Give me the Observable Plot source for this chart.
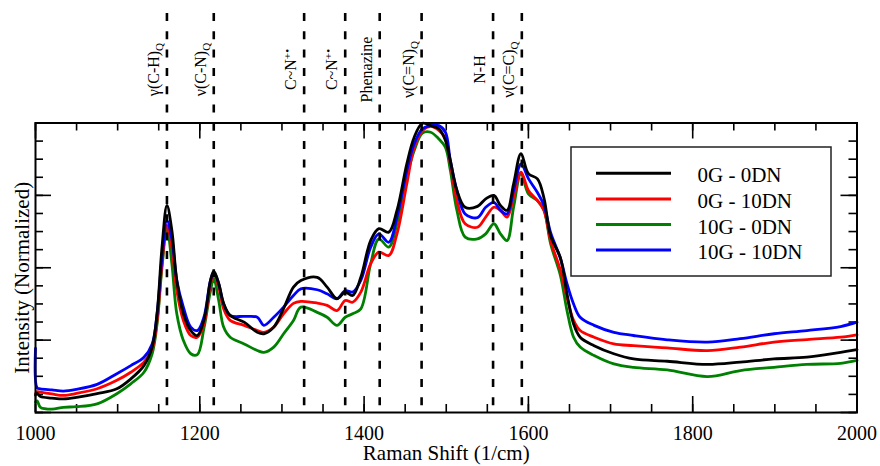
<!DOCTYPE html>
<html><head><meta charset="utf-8">
<script src="https://cdn.jsdelivr.net/npm/d3@7"></script>
<script src="https://cdn.jsdelivr.net/npm/@observablehq/plot@0.6"></script>
<style>
body{margin:0;background:#fff;}
#wrap{position:relative;width:880px;height:466px;}
#legend{position:absolute;left:570px;top:146px;}
</style></head><body><div id="wrap"></div>
<script>
// Raman shift (1/cm)
const ramanShift = [1000,1002,1006,1020,1034,1050,1075,1099,1116,1132,1142,1148,1154,1160,1166,1172,1180,1189,1197,1205,1213,1217,1223,1229,1237,1254,1270,1278,1290,1302,1314,1323,1343,1355,1367,1377,1386,1396,1408,1418,1430,1440,1452,1461,1471,1481,1491,1499,1505,1513,1523,1538,1548,1558,1566,1574,1582,1591,1600,1611,1619,1627,1639,1647,1655,1663,1680,1704,1728,1769,1818,1858,1899,1939,1980,2000];
// normalized intensities
const g0dn0 = [0.060,0.066,0.055,0.050,0.047,0.052,0.065,0.082,0.116,0.162,0.226,0.342,0.571,0.715,0.629,0.456,0.342,0.283,0.266,0.318,0.456,0.488,0.446,0.377,0.335,0.312,0.277,0.272,0.295,0.359,0.433,0.456,0.467,0.433,0.393,0.416,0.404,0.467,0.594,0.635,0.623,0.698,0.859,0.951,0.999,0.991,0.980,0.940,0.870,0.767,0.709,0.712,0.738,0.750,0.715,0.698,0.790,0.894,0.825,0.807,0.740,0.610,0.534,0.410,0.306,0.260,0.231,0.203,0.185,0.177,0.166,0.174,0.185,0.191,0.208,0.217];
const g0dn10 = [0.065,0.072,0.070,0.064,0.059,0.066,0.082,0.111,0.139,0.174,0.220,0.318,0.514,0.646,0.571,0.421,0.318,0.266,0.260,0.306,0.445,0.479,0.433,0.358,0.318,0.301,0.283,0.277,0.295,0.341,0.377,0.384,0.378,0.370,0.352,0.387,0.381,0.416,0.514,0.554,0.542,0.617,0.790,0.916,0.974,0.988,0.974,0.945,0.859,0.732,0.652,0.640,0.675,0.709,0.698,0.675,0.744,0.830,0.767,0.732,0.698,0.594,0.491,0.398,0.318,0.283,0.260,0.237,0.231,0.223,0.214,0.226,0.243,0.252,0.260,0.268];
const g10dn0 = [0.036,0.040,0.018,0.012,0.018,0.020,0.030,0.065,0.099,0.139,0.203,0.306,0.502,0.640,0.514,0.341,0.249,0.203,0.200,0.290,0.420,0.462,0.387,0.295,0.260,0.237,0.214,0.208,0.226,0.272,0.318,0.364,0.346,0.329,0.301,0.329,0.341,0.358,0.514,0.600,0.571,0.652,0.813,0.905,0.965,0.968,0.945,0.916,0.836,0.698,0.606,0.600,0.617,0.652,0.617,0.594,0.709,0.825,0.755,0.732,0.698,0.583,0.473,0.352,0.260,0.226,0.197,0.168,0.156,0.147,0.124,0.145,0.156,0.166,0.170,0.180];
const g10dn10 = [0.221,0.085,0.082,0.078,0.074,0.080,0.097,0.134,0.162,0.191,0.237,0.341,0.536,0.663,0.600,0.456,0.364,0.295,0.283,0.329,0.456,0.485,0.445,0.375,0.335,0.332,0.329,0.301,0.329,0.364,0.404,0.427,0.424,0.410,0.393,0.421,0.416,0.456,0.571,0.617,0.588,0.675,0.836,0.928,0.980,0.991,0.991,0.968,0.870,0.767,0.686,0.673,0.709,0.726,0.698,0.686,0.767,0.859,0.808,0.760,0.715,0.622,0.532,0.445,0.375,0.329,0.301,0.277,0.266,0.251,0.243,0.255,0.272,0.283,0.297,0.312];

const seriesNames = ["0G - 0DN","0G - 10DN","10G - 0DN","10G - 10DN"];
const seriesColors = ["#000000","#ff0000","#008000","#0000ff"];
const seriesValues = [g0dn0, g0dn10, g10dn0, g10dn10];
const drawOrder = [2, 1, 3, 0];

const bandPositions = [1160,1217,1327,1377,1419,1470,1557,1592];
const bandLabels = ["γ(C-H)_Q","ν(C-N)_Q","C~N^+•","C~N^+•","Phenazine","ν(C=N)_Q","N-H","ν(C=C)_Q"];

const xMajorTicks = [1000,1200,1400,1600,1800,2000];
const xMinorTicks = d3.range(1000, 2001, 50);
const yMajorTicks = [0,0.25,0.5,0.75,1];
const yMinorTicks = d3.range(0, 1.0001, 0.0625);

const W = 880, H = 466, mt = 122.5, mb = 54, ml = 35, mr = 23.5;
const fw = W - ml - mr, fh = H - mt - mb;
const font = "'Liberation Serif','Times New Roman',serif";

const marks = [];
// ticks (inward)
marks.push(Plot.ruleX(xMinorTicks, {insetTop: fh - 8, stroke: "black", strokeWidth: 1.6}));
marks.push(Plot.ruleX(xMinorTicks, {insetBottom: fh - 8, stroke: "black", strokeWidth: 1.6}));
marks.push(Plot.ruleX(xMajorTicks, {insetTop: fh - 16, stroke: "black", strokeWidth: 1.6}));
marks.push(Plot.ruleX(xMajorTicks, {insetBottom: fh - 16, stroke: "black", strokeWidth: 1.6}));
marks.push(Plot.ruleY(yMinorTicks, {insetRight: fw - 8, stroke: "black", strokeWidth: 1.6}));
marks.push(Plot.ruleY(yMinorTicks, {insetLeft: fw - 8, stroke: "black", strokeWidth: 1.6}));
marks.push(Plot.ruleY(yMajorTicks, {insetRight: fw - 16, stroke: "black", strokeWidth: 1.6}));
marks.push(Plot.ruleY(yMajorTicks, {insetLeft: fw - 16, stroke: "black", strokeWidth: 1.6}));
// curves
for (const k of drawOrder) {
  const vals = seriesValues[k];
  marks.push(Plot.line(ramanShift, {x: d => d, y: (d, i) => vals[i], stroke: seriesColors[k], strokeWidth: 2.8, curve: "catmull-rom"}));
}
// band markers
marks.push(Plot.ruleX(bandPositions, {x: d => d, insetTop: -(mt - 13), stroke: "black", strokeWidth: 2.6, strokeDasharray: "8,10.3"}));
marks.push(Plot.text(bandPositions, {x: d => d, text: (d, i) => bandLabels[i], frameAnchor: "top", textAnchor: "middle", lineAnchor: "middle", rotate: -90, dx: -13, dy: -(mt - 69), fontSize: 16, fill: "black"}));
// frame + axis
marks.push(Plot.frame({stroke: "black", strokeWidth: 2}));
marks.push(Plot.axisX(xMajorTicks, {tickSize: 0, tickPadding: 13, tickFormat: d => String(d), fontSize: 20, label: null, fill: "black"}));
marks.push(Plot.text(["Raman Shift (1/cm)"], {frameAnchor: "bottom", textAnchor: "middle", lineAnchor: "middle", dy: 41, fontSize: 21, fill: "black"}));
marks.push(Plot.text(["Intensity (Normalized)"], {frameAnchor: "left", textAnchor: "middle", lineAnchor: "middle", rotate: -90, dx: -13, dy: 10, fontSize: 21, fill: "black"}));

const svg = Plot.plot({
  width: W, height: H,
  marginTop: mt, marginBottom: mb, marginLeft: ml, marginRight: mr,
  x: {domain: [1000, 2000], axis: null},
  y: {domain: [0, 1], axis: null},
  style: {fontFamily: font, background: "white", color: "black"},
  marks
});

// sub/superscripts
d3.select(svg).selectAll("text").each(function() {
  const t = this.textContent;
  const m = t.match(/^(.*?)([_^])(.*)$/);
  if (m) {
    this.textContent = m[1];
    d3.select(this).append("tspan")
      .attr("dy", m[2] === "_" ? "0.35em" : "-0.5em")
      .attr("font-size", "70%")
      .text(m[3]);
  }
});

const wrap = document.getElementById("wrap");
wrap.appendChild(svg);

// legend
const leg = d3.select(wrap).append("svg").attr("id", "legend")
  .attr("width", 263).attr("height", 132)
  .style("font-family", font);
leg.append("rect").attr("x", 1).attr("y", 1).attr("width", 260).attr("height", 129)
  .attr("fill", "white").attr("stroke", "#222").attr("stroke-width", 1.5);
seriesNames.forEach((name, i) => {
  const yy = 27.3 + i * 25.6;
  leg.append("line").attr("x1", 26).attr("x2", 101).attr("y1", yy).attr("y2", yy)
    .attr("stroke", seriesColors[i]).attr("stroke-width", 3);
  leg.append("text").attr("x", 127.5).attr("y", yy + 9).attr("font-size", 21)
    .attr("fill", "black").text(name);
});
</script></body></html>
